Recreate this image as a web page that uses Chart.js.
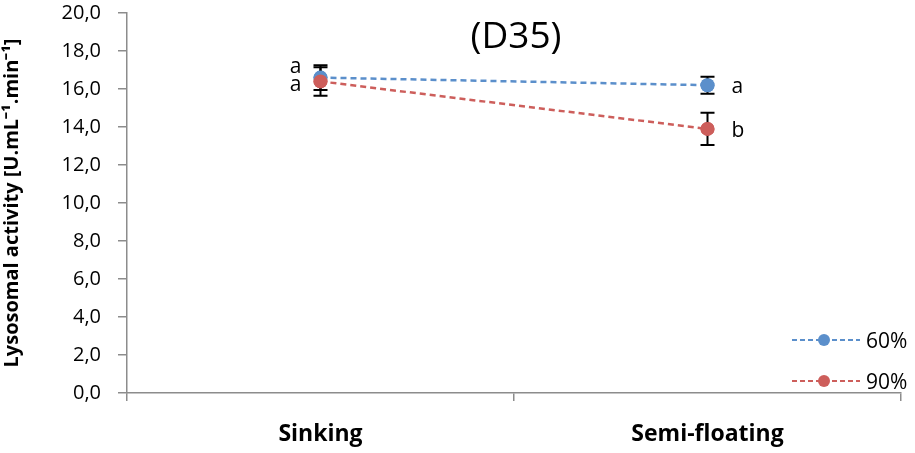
<!DOCTYPE html>
<html>
<head>
<meta charset="utf-8">
<script src="https://cdn.jsdelivr.net/npm/chart.js@4"></script>
<style>
html,body{margin:0;padding:0;background:#fff;}
#wrap{width:915px;height:453px;position:relative;}
</style>
</head>
<body>
<div id="wrap"><canvas id="c" width="915" height="453"></canvas></div>
<script>
const categories = ['Sinking', 'Semi-floating'];
const seriesNames = ['60%', '90%'];
const values60 = [16.6, 16.2];
const values90 = [16.4, 13.9];
const errors60 = [0.65, 0.45];
const errors90 = [0.75, 0.85];
const letters60 = ['a', 'a'];
const letters90 = ['a', 'b'];
const yTicks = [0, 2, 4, 6, 8, 10, 12, 14, 16, 18, 20];
const titleText = '(D35)';
const yTitle = 'Lysosomal activity [U.mL\u207B\u00B9.min\u207B\u00B9]';

const BLUE = '#5B8FCB';
const RED = '#CD5E5B';
const FONT = "'Open Sans', 'Liberation Sans', sans-serif";

const overlay = {
  id: 'overlay',
  afterDatasetsDraw(chart) {
    const ctx = chart.ctx;
    const xs = chart.scales.x, ys = chart.scales.y;
    const errs = [errors60, errors90];
    chart.data.datasets.forEach((ds, di) => {
      ds.data.forEach((v, i) => {
        const x = xs.getPixelForValue(i);
        const yt = ys.getPixelForValue(v + errs[di][i]);
        const yb = ys.getPixelForValue(v - errs[di][i]);
        ctx.save();
        ctx.strokeStyle = '#000';
        ctx.lineWidth = 2;
        ctx.beginPath();
        ctx.moveTo(x, yt); ctx.lineTo(x, yb);
        ctx.moveTo(x - 7, yt); ctx.lineTo(x + 7, yt);
        ctx.moveTo(x - 7, yb); ctx.lineTo(x + 7, yb);
        ctx.stroke();
        ctx.restore();
      });
    });
    chart.data.datasets.forEach((ds, di) => {
      chart.getDatasetMeta(di).data.forEach(pt => pt.draw(ctx));
    });
  },
  afterDraw(chart) {
    const ctx = chart.ctx;
    const xs = chart.scales.x, ys = chart.scales.y;
    ctx.save();
    ctx.fillStyle = '#000';
    ctx.font = "21px " + FONT;
    ctx.textBaseline = 'middle';
    ctx.textAlign = 'right';
    ctx.fillText(letters60[0], xs.getPixelForValue(0) - 19, ys.getPixelForValue(values60[0]) - 11);
    ctx.fillText(letters90[0], xs.getPixelForValue(0) - 19, ys.getPixelForValue(values90[0]) + 4);
    ctx.textAlign = 'left';
    ctx.fillText(letters60[1], xs.getPixelForValue(1) + 24, ys.getPixelForValue(values60[1]) + 2);
    ctx.fillText(letters90[1], xs.getPixelForValue(1) + 24, ys.getPixelForValue(values90[1]) + 2);
    ctx.font = "37px " + FONT;
    ctx.textAlign = 'center';
    ctx.textBaseline = 'alphabetic';
    ctx.fillText(titleText, 516, 48);
    const items = [[seriesNames[0], BLUE, 340], [seriesNames[1], RED, 381]];
    items.forEach(([t, col, y]) => {
      ctx.strokeStyle = col;
      ctx.lineWidth = 2;
      ctx.setLineDash([5, 3]);
      ctx.beginPath(); ctx.moveTo(792, y); ctx.lineTo(860, y); ctx.stroke();
      ctx.setLineDash([]);
      ctx.fillStyle = col;
      ctx.beginPath(); ctx.arc(824, y, 6, 0, Math.PI * 2); ctx.fill();
      ctx.fillStyle = '#000';
      ctx.font = "21px " + FONT;
      ctx.textAlign = 'left';
      ctx.textBaseline = 'middle';
      ctx.fillText(t, 866, y + 2);
    });
    ctx.restore();
  }
};

new Chart(document.getElementById('c'), {
  type: 'line',
  data: {
    labels: categories,
    datasets: [
      { label: seriesNames[0], data: values60, borderColor: BLUE, backgroundColor: BLUE,
        borderDash: [6, 4], borderWidth: 2.5, pointRadius: 7, pointBorderWidth: 0,
        pointBackgroundColor: BLUE, tension: 0 },
      { label: seriesNames[1], data: values90, borderColor: RED, backgroundColor: RED,
        borderDash: [6, 4], borderWidth: 2.5, pointRadius: 7, pointBorderWidth: 0,
        pointBackgroundColor: RED, tension: 0 }
    ]
  },
  options: {
    responsive: false,
    animation: false,
    layout: { padding: { top: 13, right: 14, left: 0, bottom: 0 } },
    plugins: { legend: { display: false }, title: { display: false }, tooltip: { enabled: false } },
    scales: {
      x: {
        offset: true,
        grid: { offset: true, drawOnChartArea: false, drawTicks: true, tickLength: 8, color: '#8C8C8C', lineWidth: 1.5 },
        border: { color: '#8C8C8C', width: 1.5 },
        ticks: { color: '#000', font: { family: FONT, size: 23, weight: 'bold' }, padding: 20 },
        afterFit(s) { s.height = 60; s.paddingLeft = 0; s.paddingRight = 0; }
      },
      y: {
        min: 0, max: 20,
        afterBuildTicks(s) { s.ticks = yTicks.map(v => ({ value: v })); },
        grid: { drawOnChartArea: false, drawTicks: true, tickLength: 9, color: '#8C8C8C', lineWidth: 1.5 },
        border: { color: '#8C8C8C', width: 1.5 },
        ticks: { color: '#000', font: { family: FONT, size: 20 }, padding: 17,
          callback: v => v.toFixed(1).replace('.', ',') },
        title: { display: true, text: yTitle, color: '#000', font: { family: FONT, size: 20, weight: 'bold' }, padding: { top: 0, bottom: 0 } },
        afterFit(s) { s.width = 127; s.paddingTop = 0; s.paddingBottom = 0; }
      }
    }
  },
  plugins: [overlay]
});
</script>
</body>
</html>
